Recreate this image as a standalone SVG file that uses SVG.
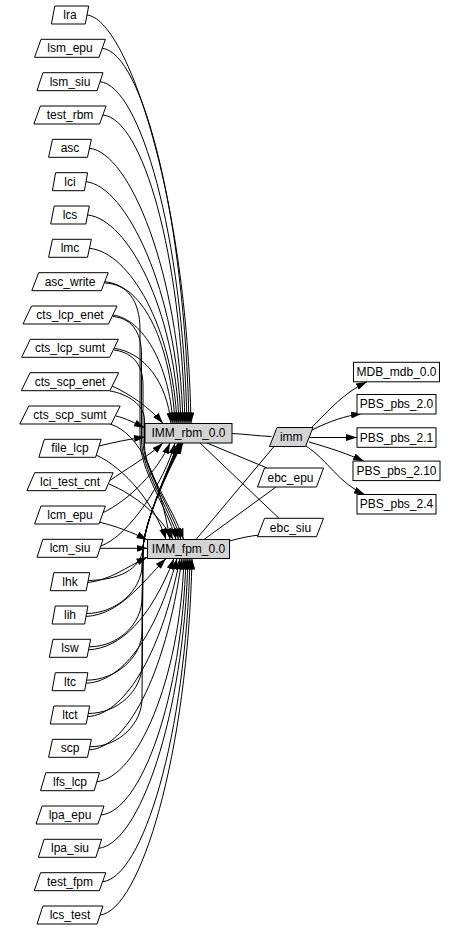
<svg xmlns="http://www.w3.org/2000/svg" width="460" height="931" viewBox="0 0 460 931">
<style>
.n polygon,.n rect{fill:#fff;stroke:#000;stroke-width:1}
.g polygon,.g rect{fill:#d3d3d3;stroke:#000;stroke-width:1}
text{font-family:"Liberation Sans",Arial,sans-serif;font-size:12px;text-anchor:middle;fill:#000}
#edges path{fill:none;stroke:#000;stroke-width:1}
#edges .a{marker-end:url(#ah)}
</style>
<defs>
<marker id="ah" markerWidth="11" markerHeight="7" refX="11" refY="3.5" orient="auto" markerUnits="userSpaceOnUse"><path d="M0,0 L11,3.5 L0,7 z" fill="#000"/></marker>
</defs>
<rect x="0" y="0" width="460" height="931" fill="#fff"/>
<g id="edges">
<path class="a" d="M87,15 C127,19 187,198.6 191,423.5"/>
<path class="a" d="M102.3,48.3 C142.3,52.3 185,216.9 189,423.5"/>
<path class="a" d="M100,81.7 C140,85.7 183,235.3 187,423.5"/>
<path class="a" d="M102.9,115 C142.9,119 181,253.6 185,423.5"/>
<path class="a" d="M89.5,148.3 C129.5,152.3 179,271.9 183,423.5"/>
<path class="a" d="M86,181.7 C126,185.7 177,290.3 181,423.5"/>
<path class="a" d="M87.6,215 C127.6,219 175,308.6 179,423.5"/>
<path class="a" d="M89.5,248.3 C129.5,252.3 173,326.9 177,423.5"/>
<path class="a" d="M104.8,281.7 C144.8,285.7 171,345.3 175,423.5"/>
<path class="a" d="M112.8,315 C142.8,319 169,363.6 173,423.5"/>
<path class="a" d="M114,348.3 C144,352.3 167,381.9 171,423.5"/>
<path class="a" d="M112,386 C130,394 150,408 163,423.5"/>
<path class="a" d="M116,416 C125,418 135,423 145,428"/>
<path class="a" d="M99,446 C115,442 130,439 145,437"/>
<path class="a" d="M109,481 C125,470 150,455 163,443"/>
<path class="a" d="M102.3,513 C130,500 158,470 170,443"/>
<path class="a" d="M101,546 C130,535 165,480 175,443"/>
<path class="a" d="M88,580.5 C118,580 141,570 143,548 C145,520 168,470 178,443"/>
<path class="a" d="M86.3,613.5 C116.3,613.5 142,590 142,565 L143,548 C145,520 168,470 179,443"/>
<path class="a" d="M88.9,646.8 C118.9,646.8 142,623.3 142,598.3 L143,548 C145,520 168,470 180,443"/>
<path class="a" d="M86.3,680.2 C116.3,680.2 142,656.7 142,631.7 L143,548 C145,520 168,470 181,443"/>
<path class="a" d="M88,713.5 C118,713.5 142,690 142,665 L143,548 C145,520 168,470 182,443"/>
<path class="a" d="M89.5,746.8 C119.5,746.8 142,723.3 142,698.3 L143,548 C145,520 168,470 183,443"/>
<path class="a" d="M104.8,283 C127,284 140,300 140,330 L140,440 C140,470 166,505 176,539.5"/>
<path class="a" d="M112.8,316.5 C130,318 141.5,330 141.5,355 L141.5,440 C141.5,470 168,505 178.5,539.5"/>
<path class="a" d="M114,350 C130,352 143,362 143,385 L143,440 C143,470 170,505 181,539.5"/>
<path class="a" d="M110,391 C128,394 144.5,405 144.5,420 L144.5,445 C144.5,472 172,505 183.5,539.5"/>
<path class="a" d="M110,424 C140,433 160,480 170,539.5"/>
<path class="a" d="M96,455 C125,468 155,505 166,539.5"/>
<path class="a" d="M109,484 C135,495 160,515 173,539.5"/>
<path class="a" d="M99,522 C115,526 132,532 147.5,540"/>
<path class="a" d="M100,548.3 L147.5,548.3"/>
<path class="a" d="M88,582.5 C110,580 125,568 147.5,557"/>
<path class="a" d="M86.3,616.5 C120,614 140,585 166,558.5"/>
<path class="a" d="M88.9,649.8 C120,648 150,620 174,558.5"/>
<path class="a" d="M86.3,683.2 C120,682 155,640 177,558.5"/>
<path class="a" d="M88,716.5 C122,715 160,660 180,558.5"/>
<path class="a" d="M89.5,749.8 C125,748 165,680 182,558.5"/>
<path class="a" d="M96.8,781.7 C136.8,777.7 180,681 184,558.5"/>
<path class="a" d="M101,815 C141,811 182,699.3 186,558.5"/>
<path class="a" d="M98.7,848.3 C138.7,844.3 184,717.7 188,558.5"/>
<path class="a" d="M102.6,881.7 C142.6,877.7 186,736 190,558.5"/>
<path class="a" d="M100,915 C140,911 188,754.3 192,558.5"/>
<path d="M232,433.5 C245,434 258,436 271.5,436.5"/>
<path d="M207,443 L267,468"/>
<path d="M200,443 L279,518.3"/>
<path d="M196,539.5 L274,446.5"/>
<path d="M204,539.5 L276,487"/>
<path d="M229.5,541 C240,538 250,536 259.5,535"/>
<path class="a" d="M311,428 C325,415 340,395 367,381.8"/>
<path class="a" d="M312,430 C330,421 345,416 362,413.5"/>
<path class="a" d="M309,437.5 L357,437.5"/>
<path class="a" d="M309,442 C330,448 348,454 364,461.3"/>
<path class="a" d="M306,446 C328,460 338,483 365,494.7"/>
</g>
<g id="lra" class="n"><polygon points="54.8,6 88.7,6 85.3,24 51.4,24"/><text x="70" y="19">lra</text></g>
<g id="lsm_epu" class="n"><polygon points="41,39.3 105.4,39.3 99,57.3 34.6,57.3"/><text x="70" y="52.3">lsm_epu</text></g>
<g id="lsm_siu" class="n"><polygon points="42.9,72.7 103,72.7 97.1,90.7 37,90.7"/><text x="70" y="85.7">lsm_siu</text></g>
<g id="test_rbm" class="n"><polygon points="40.4,106 106.1,106 99.6,124 33.9,124"/><text x="70" y="119">test_rbm</text></g>
<g id="asc" class="n"><polygon points="52.5,139.3 91.4,139.3 87.5,157.3 48.6,157.3"/><text x="70" y="152.3">asc</text></g>
<g id="lci" class="n"><polygon points="55.6,172.7 87.6,172.7 84.4,190.7 52.4,190.7"/><text x="70" y="185.7">lci</text></g>
<g id="lcs" class="n"><polygon points="54.2,206 89.3,206 85.8,224 50.7,224"/><text x="70" y="219">lcs</text></g>
<g id="lmc" class="n"><polygon points="52.5,239.3 91.4,239.3 87.5,257.3 48.6,257.3"/><text x="70" y="252.3">lmc</text></g>
<g id="asc_write" class="n"><polygon points="38.7,272.7 108.2,272.7 101.3,290.7 31.8,290.7"/><text x="70" y="285.7">asc_write</text></g>
<g id="cts_lcp_enet" class="n"><polygon points="31.5,306 117,306 108.5,324 23,324"/><text x="70" y="319">cts_lcp_enet</text></g>
<g id="cts_lcp_sumt" class="n"><polygon points="30.3,339.3 118.4,339.3 109.7,357.3 21.6,357.3"/><text x="70" y="352.3">cts_lcp_sumt</text></g>
<g id="cts_scp_enet" class="n"><polygon points="30.1,372.7 118.7,372.7 109.9,390.7 21.3,390.7"/><text x="70" y="385.7">cts_scp_enet</text></g>
<g id="cts_scp_sumt" class="n"><polygon points="28.8,406 120.2,406 111.2,424 19.8,424"/><text x="70" y="419">cts_scp_sumt</text></g>
<g id="file_lcp" class="n"><polygon points="44.4,439.3 101.2,439.3 95.6,457.3 38.8,457.3"/><text x="70" y="452.3">file_lcp</text></g>
<g id="lci_test_cnt" class="n"><polygon points="34.7,472.7 113.1,472.7 105.3,490.7 26.9,490.7"/><text x="70" y="485.7">lci_test_cnt</text></g>
<g id="lcm_epu" class="n"><polygon points="41,506 105.4,506 99,524 34.6,524"/><text x="70" y="519">lcm_epu</text></g>
<g id="lcm_siu" class="n"><polygon points="42.9,539.3 103,539.3 97.1,557.3 37,557.3"/><text x="70" y="552.3">lcm_siu</text></g>
<g id="lhk" class="n"><polygon points="53.8,572.7 89.7,572.7 86.2,590.7 50.3,590.7"/><text x="70" y="585.7">lhk</text></g>
<g id="lih" class="n"><polygon points="55.3,606 87.9,606 84.7,624 52.1,624"/><text x="70" y="619">lih</text></g>
<g id="lsw" class="n"><polygon points="53,639.3 90.7,639.3 87,657.3 49.3,657.3"/><text x="70" y="652.3">lsw</text></g>
<g id="ltc" class="n"><polygon points="55.3,672.7 87.9,672.7 84.7,690.7 52.1,690.7"/><text x="70" y="685.7">ltc</text></g>
<g id="ltct" class="n"><polygon points="53.8,706 89.7,706 86.2,724 50.3,724"/><text x="70" y="719">ltct</text></g>
<g id="scp" class="n"><polygon points="52.5,739.3 91.4,739.3 87.5,757.3 48.6,757.3"/><text x="70" y="752.3">scp</text></g>
<g id="lfs_lcp" class="n"><polygon points="45.8,772.7 99.5,772.7 94.2,790.7 40.5,790.7"/><text x="70" y="785.7">lfs_lcp</text></g>
<g id="lpa_epu" class="n"><polygon points="42.1,806 104,806 97.9,824 36,824"/><text x="70" y="819">lpa_epu</text></g>
<g id="lpa_siu" class="n"><polygon points="44.1,839.3 101.6,839.3 95.9,857.3 38.4,857.3"/><text x="70" y="852.3">lpa_siu</text></g>
<g id="test_fpm" class="n"><polygon points="40.6,872.7 105.8,872.7 99.4,890.7 34.2,890.7"/><text x="70" y="885.7">test_fpm</text></g>
<g id="lcs_test" class="n"><polygon points="42.9,906 103,906 97.1,924 37,924"/><text x="70" y="919">lcs_test</text></g>
<g id="IMM_rbm_0.0" class="g"><rect x="145" y="423.5" width="87" height="19.5"/><text x="188.5" y="437.3">IMM_rbm_0.0</text></g>
<g id="IMM_fpm_0.0" class="g"><rect x="147.5" y="539.5" width="82" height="19"/><text x="188.5" y="553">IMM_fpm_0.0</text></g>
<g id="imm" class="g"><polygon points="277,427.5 313,427.5 305.5,446.5 269.5,446.5"/><text x="291.3" y="441">imm</text></g>
<g id="ebc_epu" class="n"><polygon points="264.5,468 323.5,468 316.5,487 257.5,487"/><text x="290.5" y="481.5">ebc_epu</text></g>
<g id="ebc_siu" class="n"><polygon points="264.5,518.3 323.5,518.3 316.5,536.7 257.5,536.7"/><text x="290.5" y="531.5">ebc_siu</text></g>
<g id="MDB_mdb_0.0" class="n"><rect x="353.5" y="362.3" width="86" height="19.5"/><text x="396.5" y="376">MDB_mdb_0.0</text></g>
<g id="PBS_pbs_2.0" class="n"><rect x="357" y="394.5" width="79" height="19.5"/><text x="396.5" y="408.2">PBS_pbs_2.0</text></g>
<g id="PBS_pbs_2.1" class="n"><rect x="357" y="427.8" width="79" height="19.5"/><text x="396.5" y="441.5">PBS_pbs_2.1</text></g>
<g id="PBS_pbs_2.10" class="n"><rect x="353" y="461.1" width="87" height="19.5"/><text x="396.5" y="474.8">PBS_pbs_2.10</text></g>
<g id="PBS_pbs_2.4" class="n"><rect x="357" y="494.5" width="79" height="19.5"/><text x="396.5" y="508.2">PBS_pbs_2.4</text></g>
</svg>
